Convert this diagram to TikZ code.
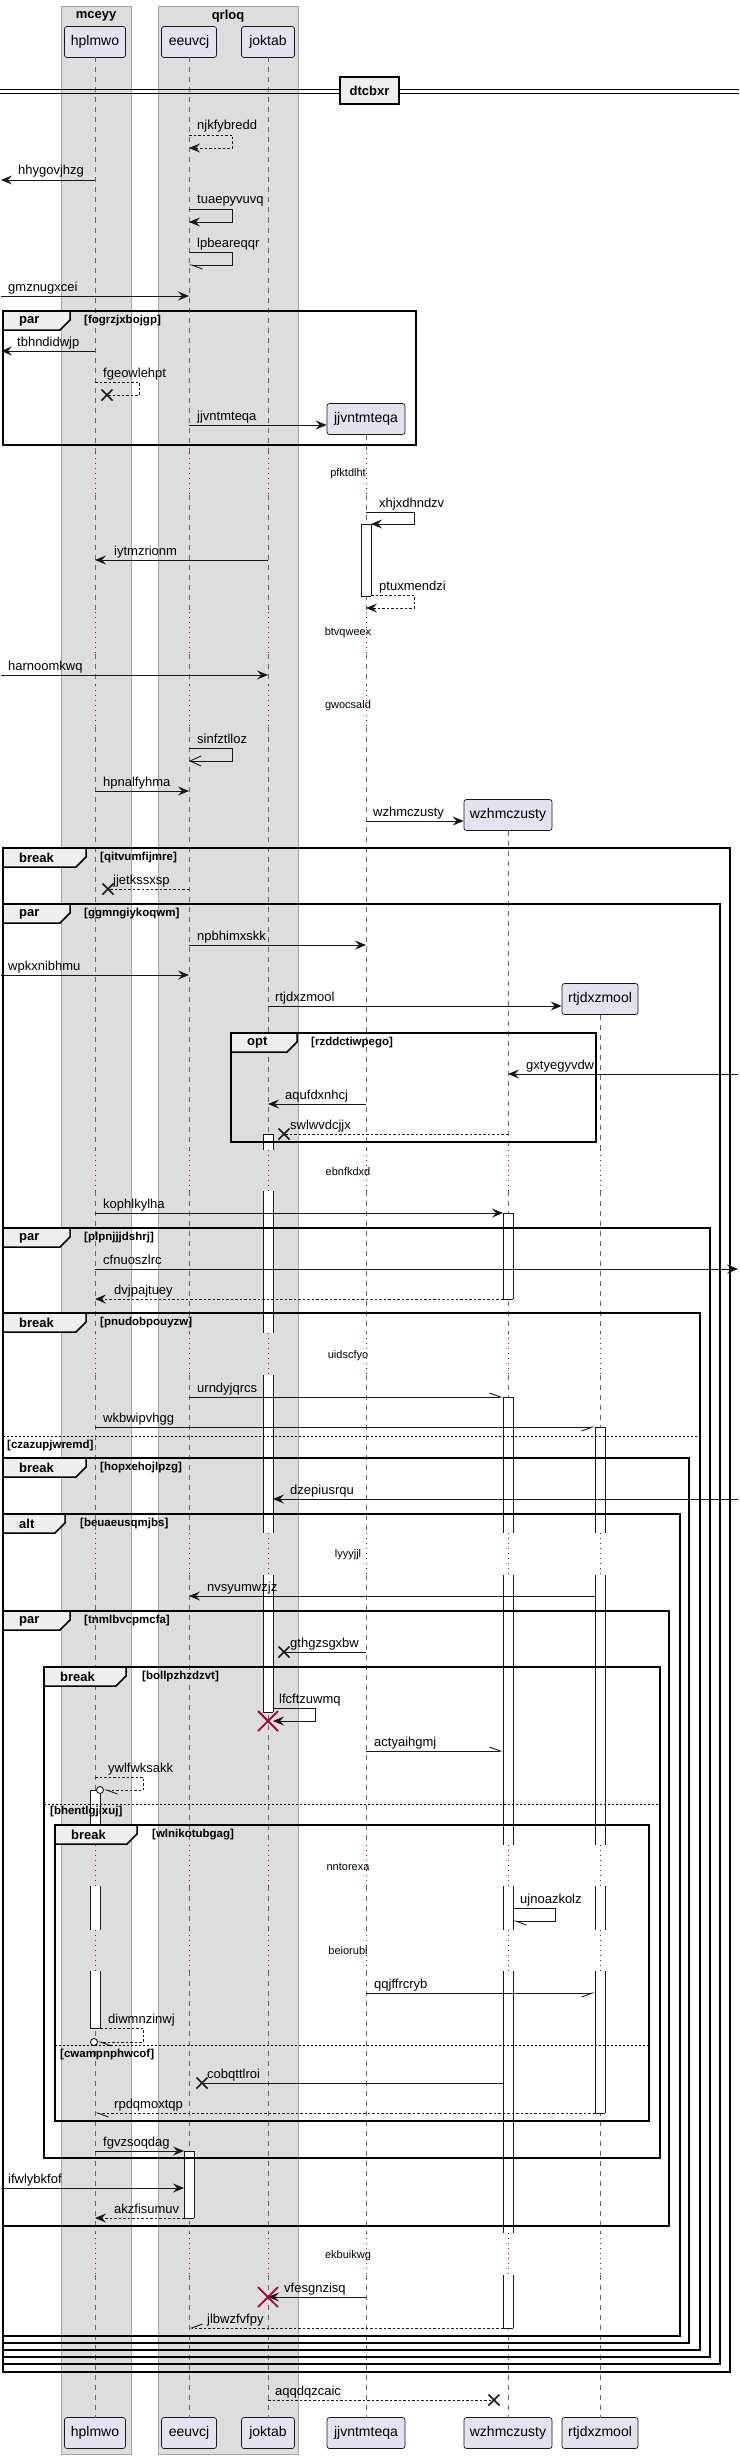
\documentclass[tikz,border=0pt]{standalone}
\usepackage{fontspec}
\setmainfont{Liberation Sans}
\usetikzlibrary{arrows.meta}
\definecolor{pfill}{HTML}{E2E2F0}
\definecolor{boxfill}{HTML}{DDDDDD}
\definecolor{tabfill}{HTML}{EEEEEE}
\definecolor{dred}{HTML}{A80036}
\definecolor{ink}{HTML}{181818}
\definecolor{lgray}{HTML}{666666}
\tikzset{
 part/.style={draw=ink, fill=pfill, rounded corners=2.5pt, line width=0.7pt, minimum height=31pt, inner sep=0pt, font=\fontsize{14}{16}\selectfont},
 gbox/.style={draw=lgray!60, fill=boxfill, line width=0.6pt},
 gtitle/.style={font=\bfseries\fontsize{13}{15}\selectfont, inner sep=0pt},
 lifeline/.style={draw=lgray, line width=0.6pt, dash pattern=on 5pt off 5pt},
 delayline/.style={draw=dred, line width=0.9pt, dash pattern=on 1pt off 4pt},
 msg/.style={draw=ink, line width=0.9pt},
 dmsg/.style={msg, dash pattern=on 2.5pt off 2pt},
 fa/.style={-{Stealth[length=11pt,width=9pt,inset=4pt]}},
 oa/.style={-{Straight Barb[length=11pt,width=10pt]}},
 hl/.style={-{Straight Barb[left,length=11pt,width=8pt]}},
 hr/.style={-{Straight Barb[right,length=11pt,width=8pt]}},
 mlabel/.style={font=\fontsize{13}{15}\selectfont, inner sep=0pt, anchor=base west},
 dlabel/.style={font=\fontsize{11}{13}\selectfont, inner sep=0pt},
 frameline/.style={draw=black, line width=1.5pt},
 tablabel/.style={font=\bfseries\fontsize{13}{15}\selectfont, inner sep=0pt, anchor=west},
 condlabel/.style={font=\bfseries\fontsize{11.5}{13}\selectfont, inner sep=0pt, anchor=west},
 elseline/.style={draw=black, line width=1pt, dash pattern=on 2pt off 2pt},
 xmark/.style={draw=ink, line width=1.6pt},
 rxmark/.style={draw=dred, line width=1.8pt},
 actline/.style={draw=ink, line width=0.9pt},
 sepbox/.style={draw=black, line width=1.5pt, fill=tabfill, minimum width=59pt, minimum height=27pt, inner sep=0pt, font=\bfseries\fontsize{13}{15}\selectfont},
}
\newcommand\xmk[1]{\draw[xmark] (#1) ++(-5.5,-5.5) -- ++(11,11) ++(0,-11) -- ++(-11,11);}
\newcommand\rxmk[1]{\draw[rxmark] (#1) ++(-10,-10) -- ++(20,20) ++(0,-20) -- ++(-20,20);}
\newcommand\act[5]{%
 \fill[white] (#1-5,#2) rectangle (#1+5,#3);
 \draw[actline] (#1-5,#2) -- (#1-5,#3) (#1+5,#2) -- (#1+5,#3);
 \ifnum#4=1 \draw[actline] (#1-5,#2) -- (#1+5,#2);\fi
 \ifnum#5=1 \draw[actline] (#1-5,#3) -- (#1+5,#3);\fi}
\newcommand\grp[9]{%
 \draw[frameline] (#2,#3) rectangle (#4,#5);
 \draw[frameline,fill=tabfill] (#2,#3) -- (#6,#3) -- (#6,#3+9) -- (#6-10,#3+19) -- (#2,#3+19) -- cycle;
 \node[tablabel] (#1k) at (#2+16,#3+10) {#7};
 \node[condlabel] (#1c) at (#9,#3+10) {[#8]};}
\begin{document}
\begin{tikzpicture}[x=1pt,y=-1pt]
\useasboundingbox (0,0) rectangle (739,2459);
% boxes
\draw[gbox] (61,6) rectangle (131,2454);
\draw[gbox] (158,6) rectangle (298,2454);
\node[gtitle] (b1) at (96,16) {mceyy};
\node[gtitle] (b2) at (228,16) {qrloq};
% participants
\node[part, minimum width=61pt] (hp) at (95,42) {hplmwo};
\node[part, minimum width=55pt] (ee) at (189,42) {eeuvcj};
\node[part, minimum width=53pt] (jk) at (268,42) {joktab};
\node[part, minimum width=78pt] (jj) at (366,419) {jjvntmteqa};
\node[part, minimum width=88pt] (wz) at (508,815) {wzhmczusty};
\node[part, minimum width=76pt] (rt) at (600,999) {rtjdxzmool};
\node[part, minimum width=61pt] (hpB) at (95,2433) {hplmwo};
\node[part, minimum width=55pt] (eeB) at (189,2433) {eeuvcj};
\node[part, minimum width=53pt] (jkB) at (268,2433) {joktab};
\node[part, minimum width=78pt] (jjB) at (366,2433) {jjvntmteqa};
\node[part, minimum width=88pt] (wzB) at (508,2433) {wzhmczusty};
\node[part, minimum width=76pt] (rtB) at (600,2433) {rtjdxzmool};
\coordinate (L) at (1,0);
\coordinate (R) at (738,0);
\coordinate (jjr) at (371,0);
\coordinate (jkr) at (273,0);
\coordinate (wzl) at (503,0);
\coordinate (wzr) at (513,0);
\coordinate (rtl) at (595,0);
\coordinate (hpr) at (100,0);
\coordinate (eel) at (184,0);
% lifelines
\foreach \lx in {95,189,268} {
 \foreach \a/\b in {57.5/453,495/612,654/685,727/1150,1191/1333,1375/1533,1575/1845,1886/1930,1971/2233,2275/2417.5}
  \draw[lifeline] (\lx,\a) -- (\lx,\b);}
\foreach \a/\b in {434.5/453,495/612,654/685,727/1150,1191/1333,1375/1533,1575/1845,1886/1930,1971/2233,2275/2417.5}
  \draw[lifeline] (366,\a) -- (366,\b);
\foreach \lx/\s in {508/830.5,600/1014.5} {
 \foreach \a/\b in {\s/1150,1191/1333,1375/1533,1575/1845,1886/1930,1971/2233,2275/2417.5}
  \draw[lifeline] (\lx,\a) -- (\lx,\b);}
\foreach \lx in {95,189,268,366} {
 \foreach \a/\b in {453/495,612/654,685/727}
  \draw[delayline] (\lx,\a) -- (\lx,\b);}
\foreach \lx in {95,189,268,366,508,600} {
 \foreach \a/\b in {1150/1191,1333/1375,1533/1575,1845/1886,1930/1971,2233/2275}
  \draw[delayline] (\lx,\a) -- (\lx,\b);}
% delay texts
\node[dlabel] (d1) at (348,474) {pfktdlht};
\node[dlabel] (d2) at (348,633) {btvqweex};
\node[dlabel] (d3) at (348,706) {gwocsald};
\node[dlabel] (d4) at (348,1172) {ebnfkdxd};
\node[dlabel] (d5) at (348,1356) {uidscfyo};
\node[dlabel] (d6) at (348,1555) {lyyyjjl};
\node[dlabel] (d7) at (348,1867) {nntorexa};
\node[dlabel] (d8) at (348,1951) {beiorubl};
\node[dlabel] (d9) at (348,2256) {ekbuikwg};
% activations
\act{366}{524}{596}{1}{1}
\act{268}{1134}{1150}{1}{0}
\act{268}{1191}{1333}{0}{0}
\act{268}{1375}{1533}{0}{0}
\act{268}{1575}{1712}{0}{1}
\act{508}{1213}{1299}{1}{1}
\act{508}{1397}{1533}{1}{0}
\act{508}{1575}{1845}{0}{0}
\act{508}{1886}{1930}{0}{0}
\act{508}{1971}{2233}{0}{0}
\act{508}{2275}{2328}{0}{1}
\act{600}{1427}{1533}{1}{0}
\act{600}{1575}{1845}{0}{0}
\act{600}{1886}{1930}{0}{0}
\act{600}{1971}{2113}{0}{1}
\act{95}{1790}{1845}{1}{0}
\act{95}{1886}{1930}{0}{0}
\act{95}{1971}{2028}{0}{1}
\act{189}{2151}{2218}{1}{1}
% named end points
\coordinate (x7) at (107,395);
\coordinate (x16) at (108,889);
\coordinate (x22) at (284,1134);
\coordinate (x30) at (284,1652);
\coordinate (d31) at (268,1721);
\coordinate (c33) at (100,1790);
\coordinate (e33) at (104,1790);
\coordinate (c36) at (94,2042);
\coordinate (e36) at (98,2042);
\coordinate (x37) at (202,2083);
\coordinate (d42) at (268,2297);
\coordinate (x44) at (494,2400);
% messages
\draw[dmsg,fa] (ee |- 0,135) -- ++(43,0) -- ++(0,13) -- (ee |- 0,148);
\node[mlabel] (t1) at (197,130) {njkfybredd};
\draw[msg,fa] (hp |- 0,180) -- (L |- 0,180);
\node[mlabel] (t2) at (18,175) {hhygovjhzg};
\draw[msg,fa] (ee |- 0,209) -- ++(43,0) -- ++(0,13) -- (ee |- 0,222);
\node[mlabel] (t3) at (197,204) {tuaepyvuvq};
\draw[msg,hl] (ee |- 0,252) -- ++(43,0) -- ++(0,13) -- (ee |- 0,265);
\node[mlabel] (t4) at (197,247) {lpbeareqqr};
\draw[msg,fa] (L |- 0,296) -- (ee |- 0,296);
\node[mlabel] (t5) at (8,291) {gmznugxcei};
\draw[msg,fa] (hp |- 0,351) -- (L |- 0,351);
\node[mlabel] (t6) at (17,346) {tbhndidwjp};
\draw[dmsg] (hp |- 0,382) -- ++(44,0) -- ++(0,13) -- (x7);
\xmk{x7}
\node[mlabel] (t7) at (103,377) {fgeowlehpt};
\draw[msg,fa] (ee |- 0,425) -- (jj.west |- 0,425);
\node[mlabel] (t8) at (197,420) {jjvntmteqa};
\draw[msg,fa] (jj |- 0,512) -- ++(48,0) -- ++(0,12) -- (jjr |- 0,524);
\node[mlabel] (t9) at (379,507) {xhjxdhndzv};
\draw[msg,fa] (jk |- 0,560) -- (hp |- 0,560);
\node[mlabel] (t10) at (114,555) {iytmzrionm};
\draw[dmsg,fa] (jjr |- 0,595) -- ++(43,0) -- ++(0,13) -- (jj |- 0,608);
\node[mlabel] (t11) at (379,590) {ptuxmendzi};
\draw[msg,fa] (L |- 0,675) -- (jk |- 0,675);
\node[mlabel] (t12) at (8,670) {harnoomkwq};
\draw[msg,oa] (ee |- 0,748) -- ++(43,0) -- ++(0,13) -- (ee |- 0,761);
\node[mlabel] (t13) at (197,743) {sinfztlloz};
\draw[msg,fa] (hp |- 0,791) -- (ee |- 0,791);
\node[mlabel] (t14) at (103,786) {hpnalfyhma};
\draw[msg,fa] (jj |- 0,821) -- (wz.west |- 0,821);
\node[mlabel] (t15) at (373,816) {wzhmczusty};
\draw[dmsg] (ee |- 0,889) -- (x16);
\xmk{x16}
\node[mlabel] (t16) at (113,884) {jjetkssxsp};
\draw[msg,fa] (ee |- 0,945) -- (jj |- 0,945);
\node[mlabel] (t17) at (197,940) {npbhimxskk};
\draw[msg,fa] (L |- 0,975) -- (ee |- 0,975);
\node[mlabel] (t18) at (8,970) {wpkxnibhmu};
\draw[msg,fa] (jk |- 0,1006) -- (rt.west |- 0,1006);
\node[mlabel] (t19) at (275,1001) {rtjdxzmool};
\draw[msg,fa] (R |- 0,1074) -- (wz |- 0,1074);
\node[mlabel] (t20) at (526,1069) {gxtyegyvdw};
\draw[msg,fa] (jj |- 0,1104) -- (jk |- 0,1104);
\node[mlabel] (t21) at (285,1099) {aqufdxnhcj};
\draw[dmsg] (wz |- 0,1134) -- (x22);
\xmk{x22}
\node[mlabel] (t22) at (290,1129) {swlwvdcjjx};
\draw[msg,fa] (hp |- 0,1213) -- (wzl |- 0,1213);
\node[mlabel] (t23) at (103,1208) {kophlkylha};
\draw[msg,fa] (hp |- 0,1269) -- (R |- 0,1269);
\node[mlabel] (t24) at (103,1264) {cfnuoszlrc};
\draw[dmsg,fa] (wzl |- 0,1299) -- (hp |- 0,1299);
\node[mlabel] (t25) at (114,1294) {dvjpajtuey};
\draw[msg,hl] (ee |- 0,1397) -- (wzl |- 0,1397);
\node[mlabel] (t26) at (197,1392) {urndyjqrcs};
\draw[msg,hr] (hp |- 0,1427) -- (rtl |- 0,1427);
\node[mlabel] (t27) at (103,1422) {wkbwipvhgg};
\draw[msg,fa] (R |- 0,1499) -- (jkr |- 0,1499);
\node[mlabel] (t28) at (290,1494) {dzepiusrqu};
\draw[msg,fa] (rtl |- 0,1596) -- (ee |- 0,1596);
\node[mlabel] (t29) at (207,1591) {nvsyumwzjz};
\draw[msg] (jj |- 0,1652) -- (x30);
\xmk{x30}
\node[mlabel] (t30) at (290,1647) {gthgzsgxbw};
\draw[msg,fa] (jkr |- 0,1708) -- ++(42,0) -- ++(0,13) -- (jkr |- 0,1721);
\rxmk{d31}
\node[mlabel] (t31) at (279,1703) {lfcftzuwmq};
\draw[msg,hl] (jj |- 0,1751) -- (wzl |- 0,1751);
\node[mlabel] (t32) at (374,1746) {actyaihgmj};
\draw[dmsg,hl] (hp |- 0,1777) -- ++(48,0) -- ++(0,13) -- (e33);
\draw[msg,fill=white] (c33) circle[radius=3.5pt];
\node[mlabel] (t33) at (108,1772) {ywlfwksakk};
\draw[msg,hl] (wzr |- 0,1908) -- ++(42,0) -- ++(0,13) -- (wzr |- 0,1921);
\node[mlabel] (t34) at (520,1903) {ujnoazkolz};
\draw[msg,hr] (jj |- 0,1993) -- (rtl |- 0,1993);
\node[mlabel] (t35) at (374,1988) {qqjffrcryb};
\draw[dmsg,hl] (hpr |- 0,2028) -- ++(43,0) -- ++(0,14) -- (e36);
\draw[msg,fill=white] (c36) circle[radius=3.5pt];
\node[mlabel] (t36) at (108,2023) {diwmnzinwj};
\draw[msg] (wzl |- 0,2083) -- (x37);
\xmk{x37}
\node[mlabel] (t37) at (207,2078) {cobqttlroi};
\draw[dmsg,hl] (rtl |- 0,2113) -- (hp |- 0,2113);
\node[mlabel] (t38) at (114,2108) {rpdqmoxtqp};
\draw[msg,fa] (hp |- 0,2151) -- (eel |- 0,2151);
\node[mlabel] (t39) at (103,2146) {fgvzsoqdag};
\draw[msg,fa] (L |- 0,2188) -- (eel |- 0,2188);
\node[mlabel] (t40) at (8,2183) {ifwlybkfof};
\draw[dmsg,fa] (eel |- 0,2218) -- (hp |- 0,2218);
\node[mlabel] (t41) at (114,2213) {akzfisumuv};
\draw[msg,fa] (jj |- 0,2297) -- (jk |- 0,2297);
\rxmk{d42}
\node[mlabel] (t42) at (284,2292) {vfesgnzisq};
\draw[dmsg,hr] (wzl |- 0,2328) -- (ee |- 0,2328);
\node[mlabel] (t43) at (207,2323) {jlbwzfvfpy};
\draw[dmsg] (jk |- 0,2400) -- (x44);
\xmk{x44}
\node[mlabel] (t44) at (275,2395) {aqqdqzcaic};
% frames
\grp{f1}{3}{311}{416}{445}{70}{par}{fogrzjxbojgp}{84}
\grp{f2}{3}{848}{730}{2372}{86}{break}{qitvumfijmre}{100}
\grp{f3}{3}{904}{720}{2364}{70}{par}{ggmngiykoqwm}{84}
\grp{f4}{231}{1033}{596}{1142}{297}{opt}{rzddctiwpego}{311}
\grp{f5}{3}{1228}{710}{2357}{70}{par}{plpnjjjdshrj}{84}
\grp{f6}{3}{1313}{700}{2350}{86}{break}{pnudobpouyzw}{100}
\grp{f7}{3}{1458}{689}{2343}{86}{break}{hopxehojlpzg}{100}
\grp{f8}{3}{1514}{680}{2336}{65}{alt}{beuaeusqmjbs}{80}
\grp{f9}{3}{1611}{669}{2226}{70}{par}{tnmlbvcpmcfa}{84}
\grp{f10}{44}{1667}{660}{2158}{126}{break}{bollpzhzdzvt}{142}
\grp{f11}{55}{1825}{649}{2121}{137}{break}{wlnikotubgag}{152}
\draw[elseline] (3,1436) -- (700,1436);
\node[condlabel] (e6) at (7,1446) {[czazupjwremd]};
\draw[elseline] (44,1804) -- (660,1804);
\node[condlabel] (e10) at (50,1812) {[bhentlgjixuj]};
\draw[elseline] (55,2045) -- (649,2045);
\node[condlabel] (e11) at (60,2055) {[cwampnphwcof]};
% separator
\draw[black, line width=1pt] (0,89.5) -- (739,89.5) (0,93.5) -- (739,93.5);
\node[sepbox] (sep) at (369.5,90.5) {dtcbxr};
\end{tikzpicture}
\end{document}
